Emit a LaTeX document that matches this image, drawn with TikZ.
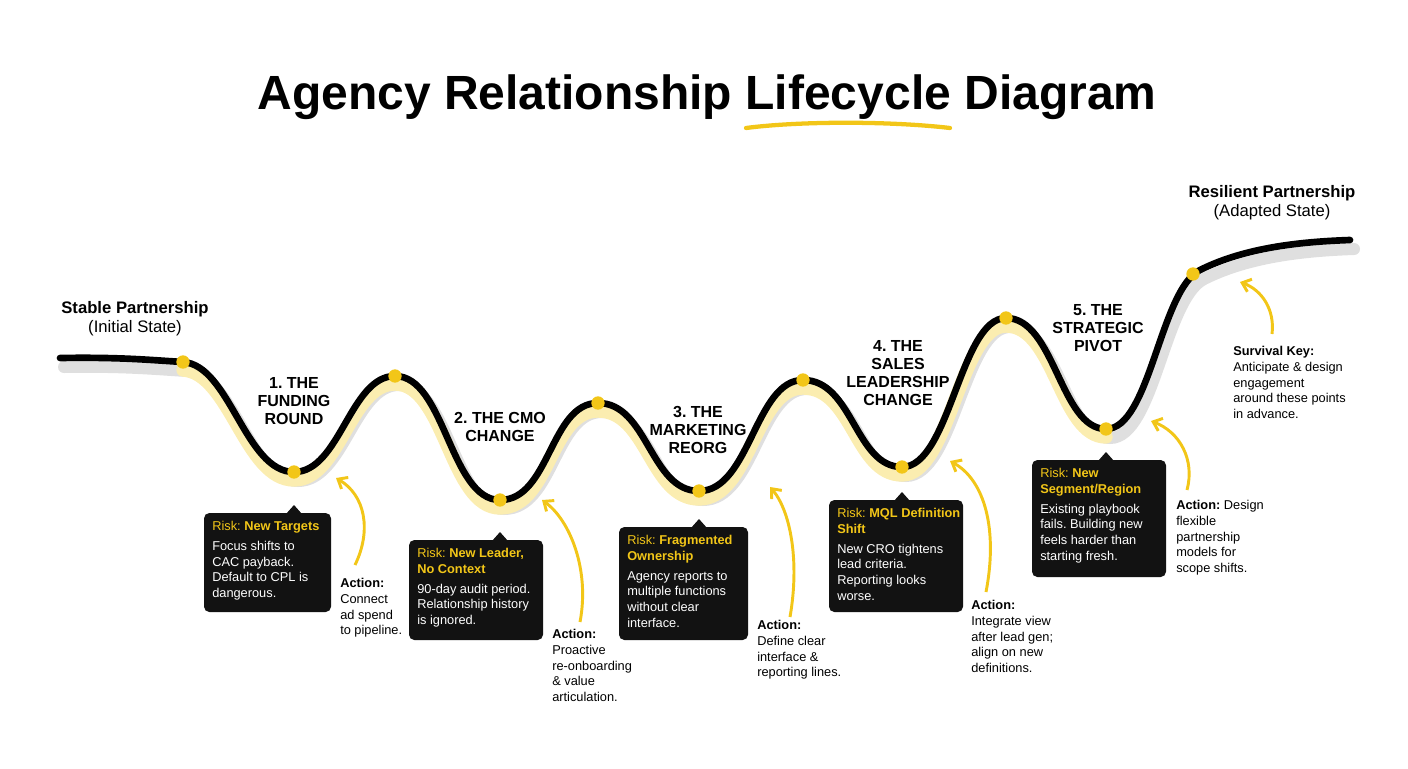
\documentclass[tikz,border=0pt]{standalone}
\usepackage{fontspec}
\setmainfont{Liberation Sans}
\usetikzlibrary{arrows.meta}
\definecolor{ylw}{HTML}{F2C618}
\definecolor{pale}{HTML}{FBEDB0}
\definecolor{box}{HTML}{121212}
\frenchspacing
\begin{document}
\begin{tikzpicture}[x=0.75pt,y=-0.75pt,
  dot/.style={circle,fill=ylw,inner sep=0,minimum size=10pt},
  stage/.style={font=\bfseries\fontsize{12}{13.5}\selectfont,align=center},
  boxtxt/.style={text=white,align=left,anchor=north west,inner sep=0,font=\fontsize{9.6}{11.8}\selectfont},
  act/.style={align=left,anchor=north west,inner sep=0,font=\fontsize{9.6}{11.8}\selectfont},
  arr/.style={ylw,line width=2.2pt,-{Straight Barb[length=6pt,width=10pt]}}]
\useasboundingbox (0,0) rectangle (1408,768);
\node[font=\bfseries\fontsize{36}{40}\selectfont] (title) at (707,97) {Agency Relationship Lifecycle Diagram};
\coordinate (u1) at (746,128); \coordinate (u2) at (950,128);
\draw[ylw,line width=3.2pt,line cap=round] (u1) .. controls (800,121) and (890,121) .. (u2);
\def\wavemid{.. controls (230,365) and (245,472) .. (294,472) .. controls (340,472) and (350,376) .. (395,376) .. controls (445,376) and (450,500) .. (500,500) .. controls (550,500) and (550,403) .. (598,403) .. controls (648,403) and (650,491) .. (699,491) .. controls (750,491) and (755,380) .. (803,380) .. controls (853,380) and (855,467) .. (902,467) .. controls (950,467) and (960,318) .. (1006,318) .. controls (1055,318) and (1060,429) .. (1106,429)}
\def\wave{(60,358) .. controls (120,357) and (150,360) .. (183,362) \wavemid .. controls (1150,429) and (1160,290) .. (1200,270) .. controls (1240,250) and (1290,242) .. (1350,240)}
\draw[gray!25,line width=9pt,line cap=round,shift={(4,9)}] \wave;
\draw[pale,line width=10pt,line cap=round,shift={(0,8)}] (183,362) \wavemid;
\draw[black,line width=5pt,line cap=round] \wave;
\foreach \n/\p in {d0/{183,362},d1/{294,472},d2/{395,376},d3/{500,500},d4/{598,403},d5/{699,491},d6/{803,380},d7/{902,467},d8/{1006,318},d9/{1106,429},d10/{1193,274}}
  \node[dot] (\n) at (\p) {};
\node[align=center,font=\fontsize{12.5}{14.5}\selectfont] (start) at (135,319) {\textbf{Stable Partnership}\\(Initial State)};
\node[align=center,font=\fontsize{12.5}{14.5}\selectfont] (end) at (1272,203) {\textbf{Resilient Partnership}\\(Adapted State)};
\node[stage] (s1) at (294,401) {1. THE\\FUNDING\\ROUND};
\node[stage] (s2) at (500,427) {2. THE CMO\\CHANGE};
\node[stage] (s3) at (698,430) {3. THE\\MARKETING\\REORG};
\node[stage] (s4) at (898,373) {4. THE\\SALES\\LEADERSHIP\\CHANGE};
\node[stage] (s5) at (1098,328) {5. THE\\STRATEGIC\\PIVOT};
\newcommand{\riskbox}[7]{%
 \fill[box,rounded corners=4pt] (#1,#2) rectangle (#3,#4);
 \fill[box] (#5-8,#2+1) -- (#5,#2-8) -- (#5+8,#2+1) -- cycle;
 \node[boxtxt] (#6) at (#1+8,#2+8) {#7};}
\riskbox{204}{513}{331}{612}{294}{b1}{{\color{ylw}Risk: \textbf{New Targets}}\\[3pt]Focus shifts to\\CAC payback.\\Default to CPL is\\dangerous.}
\riskbox{409}{540}{543}{640}{500}{b2}{{\color{ylw}Risk: \textbf{New Leader,}}\\{\color{ylw}\textbf{No Context}}\\[3pt]90-day audit period.\\Relationship history\\is ignored.}
\riskbox{619}{527}{748}{640}{699}{b3}{{\color{ylw}Risk: \textbf{Fragmented}}\\{\color{ylw}\textbf{Ownership}}\\[3pt]Agency reports to\\multiple functions\\without clear\\interface.}
\riskbox{829}{500}{963}{612}{902}{b4}{{\color{ylw}Risk: \textbf{MQL Definition}}\\{\color{ylw}\textbf{Shift}}\\[3pt]New CRO tightens\\lead criteria.\\Reporting looks\\worse.}
\riskbox{1032}{460}{1166}{577}{1106}{b5}{{\color{ylw}Risk: \textbf{New}}\\{\color{ylw}\textbf{Segment/Region}}\\[3pt]Existing playbook\\fails. Building new\\feels harder than\\starting fresh.}
\node[act] (a1) at (340,578) {\textbf{Action:}\\Connect\\ad spend\\to pipeline.};
\node[act] (a2) at (552,629) {\textbf{Action:}\\Proactive\\re-onboarding\\\& value\\articulation.};
\node[act] (a3) at (757,620) {\textbf{Action:}\\Define clear\\interface \&\\reporting lines.};
\node[act] (a4) at (971,600) {\textbf{Action:}\\Integrate view\\after lead gen;\\align on new\\definitions.};
\node[act] (a5) at (1176,500) {\textbf{Action:} Design\\flexible\\partnership\\models for\\scope shifts.};
\node[act] (key) at (1233,346) {\textbf{Survival Key:}\\Anticipate \& design\\engagement\\around these points\\in advance.};
\draw[arr] (355,565) .. controls (372,530) and (365,495) .. (336,478);
\draw[arr] (580,622) .. controls (590,570) and (570,520) .. (542,500);
\draw[arr] (790,617) .. controls (800,560) and (790,510) .. (770,487);
\draw[arr] (986,592) .. controls (998,530) and (985,480) .. (950,461);
\draw[arr] (1187,490) .. controls (1195,460) and (1180,432) .. (1151,421);
\draw[arr] (1272,334) .. controls (1275,310) and (1262,290) .. (1240,282);
\end{tikzpicture}
\end{document}
